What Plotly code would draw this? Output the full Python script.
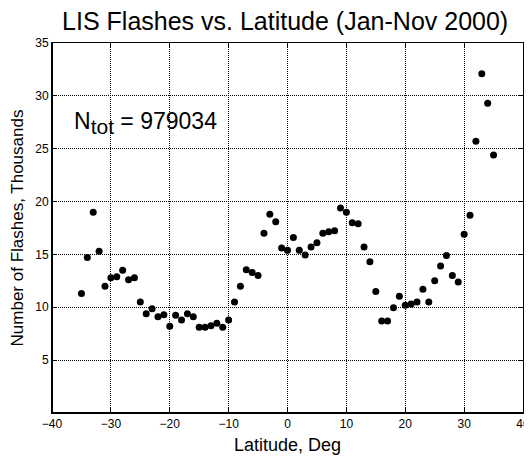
import plotly.graph_objects as go

latitude = list(range(-35, 36))
flashes_thousands = [
    11.3, 14.7, 19.0, 15.3, 12.0, 12.8, 12.9, 13.5, 12.6, 12.8,
    10.5, 9.4, 9.85, 9.1, 9.3, 8.2, 9.25, 8.8, 9.4, 9.1,
    8.1, 8.1, 8.25, 8.5, 8.1, 8.8, 10.5, 12.0, 13.55, 13.3,
    13.0, 17.0, 18.8, 18.1, 15.6, 15.4, 16.6, 15.4, 14.95, 15.7,
    16.1, 17.0, 17.15, 17.25, 19.4, 19.0, 18.0, 17.9, 15.7, 14.3,
    11.5, 8.7, 8.7, 9.95, 11.05, 10.2, 10.3, 10.5, 11.7, 10.5,
    12.5, 13.9, 14.9, 13.0, 12.4, 16.9, 18.7, 25.7, 32.1, 29.3,
    24.4,
]
x_ticks = list(range(-40, 41, 10))
y_ticks = list(range(5, 36, 5))
title_text = "LIS Flashes vs. Latitude (Jan-Nov 2000)"
n_total = 979034

FONT = "Liberation Sans, Arial, sans-serif"

fig = go.Figure()
fig.add_trace(go.Scatter(
    x=latitude, y=flashes_thousands, mode="markers",
    marker=dict(color="black", size=7, line=dict(width=0)),
    showlegend=False,
))

axis_common = dict(
    showgrid=True, gridcolor="black", griddash="1px,1px", gridwidth=1,
    zeroline=False, showline=True, linecolor="black", linewidth=1,
    mirror="ticks", ticks="inside", ticklen=5, tickcolor="black",
    tickfont=dict(family=FONT, size=12, color="black"),
    automargin=False, ticklabeloverflow="allow",
)

# the page body adds an 8px margin around the figure
W, H = 524, 447

fig.update_layout(
    width=W, height=H,
    margin=dict(l=44, r=9, t=35, b=42, autoexpand=False),
    paper_bgcolor="white", plot_bgcolor="white",
    font=dict(family=FONT, color="black"),
    title=dict(text=title_text, x=0.495, xanchor="center", xref="paper",
               y=1 - 13 / H, yref="container", yanchor="middle",
               font=dict(family=FONT, size=25, color="black"), automargin=False),
    xaxis=dict(range=[-40, 40], tickvals=x_ticks, **axis_common,
               title=dict(text="Latitude, Deg", font=dict(family=FONT, size=18), standoff=8)),
    yaxis=dict(range=[0, 35], tickvals=y_ticks, **axis_common,
               title=dict(text="Number of Flashes, Thousands", font=dict(family=FONT, size=17), standoff=8)),
    shapes=[
        dict(type="line", xref="paper", yref="paper", x0=0, x1=0, y0=0, y1=1,
             line=dict(color="black", width=2)),
        dict(type="line", xref="paper", yref="paper", x0=0, x1=1, y0=0, y1=0,
             line=dict(color="black", width=2)),
    ],
    annotations=[
        dict(text="N<sub><span style='font-size:21px'>tot</span></sub> = " + str(n_total),
             x=-36.6, y=27.4, xref="x", yref="y", xanchor="left", yanchor="middle",
             showarrow=False, font=dict(family=FONT, size=23, color="black")),
    ],
)

fig.write_html("out.html")
